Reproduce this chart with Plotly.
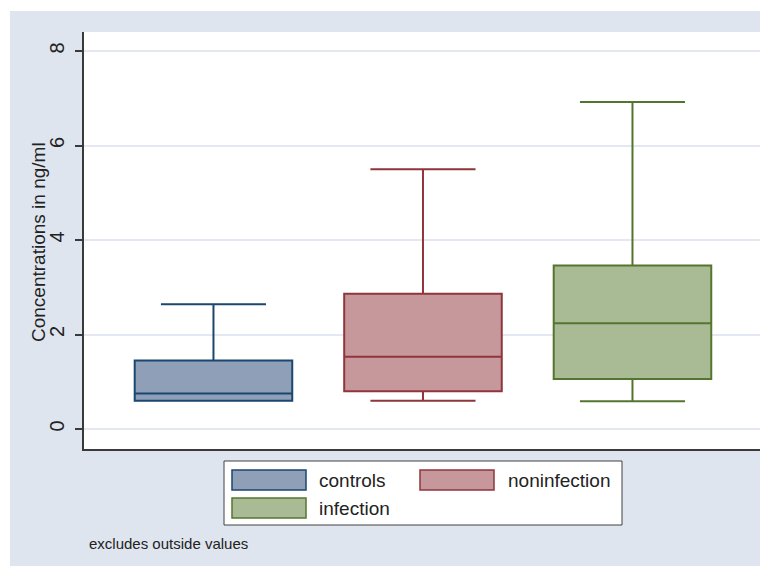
import plotly.graph_objects as go

# ---- data ----
groups = ["controls", "noninfection", "infection"]
positions = [1, 2, 3]
q1 = [0.60, 0.80, 1.06]
median = [0.75, 1.53, 2.24]
q3 = [1.45, 2.86, 3.46]
lower_whisker = [0.60, 0.60, 0.59]
upper_whisker = [2.64, 5.50, 6.92]
y_ticks = [0, 2, 4, 6, 8]
y_title = "Concentrations in ng/ml"
note = "excludes outside values"

# ---- styles ----
line_colors = ["#1a476f", "#90353b", "#55752f"]
fill_colors = ["#8f9fb8", "#c6989c", "#a9bb95"]
bg_color = "#dfe5ef"
grid_color = "#e3e8f2"
axis_color = "#3a3a3a"
text_color = "#222222"
FONT = "Liberation Sans, Arial, sans-serif"

OFF = 8  # page offset of the figure inside the browser window
W, H = 768, 566
L, R, T, B = 84 - OFF, 13, 32 - OFF, 125
PW, PH = W - L - R, H - T - B


def px_x(p):
    return (p - OFF - L) / PW


def px_y(p):
    return (H - B - (p - OFF)) / PH


fig = go.Figure()
for i, g in enumerate(groups):
    fig.add_trace(go.Box(
        x=[positions[i]], q1=[q1[i]], median=[median[i]], q3=[q3[i]],
        lowerfence=[lower_whisker[i]], upperfence=[upper_whisker[i]],
        name=g, width=0.752, whiskerwidth=0.667,
        fillcolor=fill_colors[i],
        line=dict(color=line_colors[i], width=2),
        boxpoints=False, showlegend=False, hoverinfo="skip",
    ))

shapes = []
# thin white page margins (top and left strips)
shapes.append(dict(type="rect", xref="paper", yref="paper",
                   x0=px_x(OFF), x1=px_x(10), y0=px_y(H + OFF), y1=px_y(OFF),
                   fillcolor="white", line=dict(width=0)))
shapes.append(dict(type="rect", xref="paper", yref="paper",
                   x0=px_x(OFF), x1=px_x(W + OFF), y0=px_y(11), y1=px_y(OFF),
                   fillcolor="white", line=dict(width=0)))

# manual legend
shapes.append(dict(type="rect", xref="paper", yref="paper",
                   x0=px_x(224), x1=px_x(622), y0=px_y(525), y1=px_y(461),
                   fillcolor="white", line=dict(color="#404040", width=1)))
annotations = []
legend_items = [
    (232, 470, 317),
    (420, 470, 506),
    (232, 498, 317),
]
for i, (sx, sy, tx) in enumerate(legend_items):
    shapes.append(dict(type="rect", xref="paper", yref="paper",
                       x0=px_x(sx), x1=px_x(sx + 74), y0=px_y(sy + 20), y1=px_y(sy),
                       fillcolor=fill_colors[i],
                       line=dict(color=line_colors[i], width=1.5)))
    annotations.append(dict(xref="paper", yref="paper", x=px_x(tx), y=px_y(sy + 10),
                            text=groups[i], showarrow=False, xanchor="left",
                            yanchor="middle",
                            font=dict(family=FONT, size=19, color=text_color)))

annotations.append(dict(xref="paper", yref="paper", x=px_x(87), y=px_y(543),
                        text=note, showarrow=False, xanchor="left", yanchor="middle",
                        font=dict(family=FONT, size=15, color=text_color)))
annotations.append(dict(xref="paper", yref="paper", x=px_x(38), y=px_y(242),
                        text=y_title, showarrow=False, xanchor="center",
                        yanchor="middle", textangle=-90,
                        font=dict(family=FONT, size=19, color=text_color)))

fig.update_layout(
    width=W, height=H,
    margin=dict(l=L, r=R, t=T, b=B, pad=0),
    paper_bgcolor=bg_color, plot_bgcolor="white",
    shapes=shapes, annotations=annotations,
    font=dict(family=FONT, color=text_color),
    xaxis=dict(range=[0.382, 3.623], showticklabels=False, ticks="",
               showgrid=False, zeroline=False, showline=True,
               linecolor=axis_color, linewidth=1.5, mirror=False,
               fixedrange=True),
    yaxis=dict(range=[-0.423, 8.402], tickvals=y_ticks,
               ticktext=[str(v) for v in y_ticks], tickangle=-90,
               ticks="outside", ticklen=7, tickwidth=1.5, tickcolor=axis_color,
               tickfont=dict(family=FONT, size=20, color=text_color),
               ticklabelstandoff=3,
               showgrid=True, gridcolor=grid_color, gridwidth=1.5,
               zeroline=False, showline=True, linecolor=axis_color,
               linewidth=1.5, fixedrange=True),
)

fig.write_html("out.html")
